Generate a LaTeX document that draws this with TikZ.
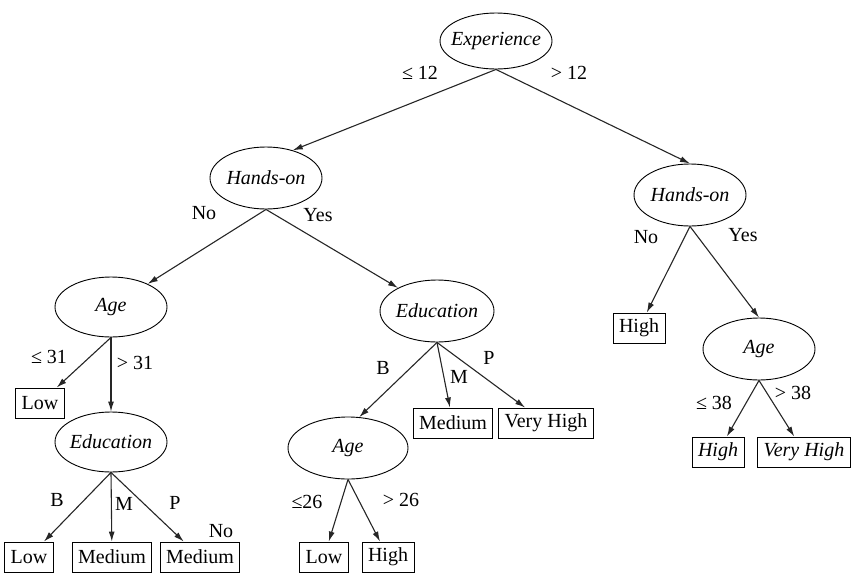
\documentclass[tikz,border=0pt]{standalone}
\usepackage{fontspec}
\setmainfont{LiberationSerif}[Extension=.ttf,UprightFont=*-Regular,ItalicFont=*-Italic,BoldFont=*-Bold,BoldItalicFont=*-BoldItalic]
\usetikzlibrary{arrows.meta,shapes.geometric}
\newcommand{\intext}[1]{\makebox[0pt]{#1}}

\begin{document}
\begin{tikzpicture}[x=1pt,y=-1pt,
  attr/.style={draw,ellipse,line width=0.9pt,minimum width=112pt,minimum height=60pt,inner sep=0pt,font=\fontsize{20}{24}\selectfont\itshape},
  leaf/.style={draw,rectangle,line width=0.9pt,minimum height=30pt,inner xsep=6pt,inner ysep=0pt,font=\fontsize{20}{24}\selectfont},
  lbl/.style={inner sep=0pt,font=\fontsize{20}{24}\selectfont},
  arr/.style={black!85,line width=1.1pt,-{Latex[length=10pt,width=6pt]}}]
  \useasboundingbox (0,0) rectangle (852,574);

  % Root
  \node[attr,minimum height=56pt] (exp) at (496,41) {\intext{Experience}};

  % Tests
  \node[attr,minimum height=62pt] (hl) at (266,178) {\intext{Hands-on}};
  \node[attr,minimum height=62pt] (hr) at (690,195) {\intext{Hands-on}};
  \node[attr] (ageA) at (111,307) {\intext{Age}};
  \node[attr] (eduA) at (111,442) {\intext{Education}};
  \node[attr,minimum width=114pt,minimum height=62pt] (eduB) at (437,311) {\intext{Education}};
  \node[attr,minimum width=120pt,minimum height=62pt] (ageB) at (348,448) {\intext{Age}};
  \node[attr,minimum height=62pt] (ageC) at (759,349) {\intext{Age}};

  % Leaves
  \node[leaf] (lowA) at (40,403) {Low};
  \node[leaf] (lowB) at (29,557) {Low};
  \node[leaf] (medA) at (112,557) {Medium};
  \node[leaf] (medB) at (200,557) {Medium};
  \node[leaf] (medC) at (453,423) {Medium};
  \node[leaf] (vhighA) at (546,423) {Very High};
  \node[leaf] (lowC) at (324,557) {Low};
  \node[leaf] (highA) at (388,557) {High};
  \node[leaf] (highB) at (639,328) {High};
  \node[leaf] (highC) at (718,452) {\textit{High}};
  \node[leaf] (vhighB) at (804,452) {\textit{Very High}};

  % Branches
  \draw[arr] (exp.south) -- (hl.46);
  \draw[arr] (exp.south) -- (hr.north);
  \draw[arr] (hl.south) -- (ageA);
  \draw[arr] (hl.south) -- (eduB);
  \draw[arr] (ageA.south) -- (lowA);
  \draw[arr] (ageA.south) -- (eduA);
  \draw[arr] (eduA.south) -- (lowB);
  \draw[arr] (eduA.south) -- (medA);
  \draw[arr] (eduA.south) -- (medB);
  \draw[arr] (eduB.south) -- (ageB.70);
  \draw[arr] (eduB.south) -- (medC);
  \draw[arr] (eduB.south) -- (vhighA);
  \draw[arr] (ageB.south) -- (lowC);
  \draw[arr] (ageB.south) -- (highA);
  \draw[arr] (hr.south) -- (highB);
  \draw[arr] (hr.south) -- (ageC.north);
  \draw[arr] (ageC.south) -- (highC);
  \draw[arr] (ageC.south) -- (vhighB);

  % Branch labels
  \node[lbl] (le12) at (420,73) {≤ 12};
  \node[lbl] (gt12) at (569,73) {> 12};
  \node[lbl] (noA) at (204,213) {No};
  \node[lbl] (yesA) at (318,215) {Yes};
  \node[lbl] (le31) at (49,357) {≤ 31};
  \node[lbl] (gt31) at (135,363) {> 31};
  \node[lbl] (bA) at (57,500) {B};
  \node[lbl] (mA) at (124,504) {M};
  \node[lbl] (pA) at (175,503) {P};
  \node[lbl] (noB) at (221,531) {No};
  \node[lbl] (bB) at (383,368) {B};
  \node[lbl] (mB) at (459,377) {M};
  \node[lbl] (pB) at (489,358) {P};
  \node[lbl] (le26) at (307,502) {≤26};
  \node[lbl] (gt26) at (401,500) {> 26};
  \node[lbl] (noC) at (646,237) {No};
  \node[lbl] (yesC) at (743,235) {Yes};
  \node[lbl] (le38) at (714,403) {≤ 38};
  \node[lbl] (gt38) at (793,393) {> 38};
\end{tikzpicture}
\end{document}
